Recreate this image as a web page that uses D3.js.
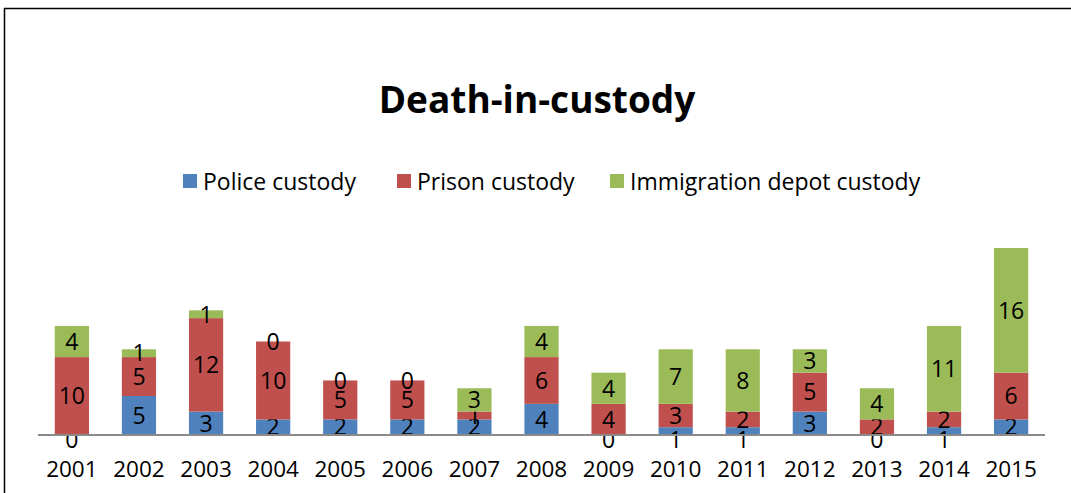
<!DOCTYPE html>
<html lang="en">
  <head>
    <meta charset="utf-8">
    <title>Death-in-custody</title>
    <script src="https://cdnjs.cloudflare.com/ajax/libs/d3/7.8.5/d3.min.js"></script>
    <style>
      body { margin: 0; background: #fff; }
      text { font-family: "Open Sans", sans-serif; fill: #000; }
    </style>
  </head>
  <body>
    <div id="chartDiv"></div>
    <script>
      var years = ["2001","2002","2003","2004","2005","2006","2007","2008","2009","2010","2011","2012","2013","2014","2015"]
      var police = [0, 5, 3, 2, 2, 2, 2, 4, 0, 1, 1, 3, 0, 1, 2]
      var prison = [10, 5, 12, 10, 5, 5, 1, 6, 4, 3, 2, 5, 2, 2, 6]
      var immigration = [4, 1, 1, 0, 0, 0, 3, 4, 4, 7, 8, 3, 4, 11, 16]
      var seriesNames = ["Police custody", "Prison custody", "Immigration depot custody"]
      var colors = ["#4F81BD", "#C0504D", "#9BBB59"]

      var chartWd = 1071
      var chartHt = 493

      var table = years.map(function(y, i) {
        return {year: y, police: police[i], prison: prison[i], immigration: immigration[i]}
      })
      var keys = ["police", "prison", "immigration"]
      var stacked = d3.stack().keys(keys)(table)

      var svg = d3.select("#chartDiv")
          .append("svg")
          .attr("width", chartWd)
          .attr("height", chartHt)

      // chart frame (only left and top edges show in the picture)
      svg.append("rect")
         .attr("x", 4.5).attr("y", 8.5)
         .attr("width", chartWd + 20).attr("height", chartHt + 20)
         .attr("fill", "none")
         .attr("stroke", "#000")
         .attr("stroke-width", 1.5)

      var xScale = d3.scaleBand()
                     .domain(years)
                     .range([38, 1045])
                     .paddingInner(0.49)
                     .paddingOuter(0.25)

      var yScale = d3.scaleLinear()
                     .domain([0, 24])
                     .range([435, 248])

      var groups = svg.selectAll("g.series")
         .data(stacked)
         .enter()
         .append("g")
         .attr("class", "series")
         .attr("fill", function(d, i) { return colors[i] })

      groups.selectAll("rect")
         .data(function(d) { return d })
         .enter()
         .append("rect")
         .attr("x", function(d) { return xScale(d.data.year) })
         .attr("y", function(d) { return yScale(d[1]) })
         .attr("width", xScale.bandwidth())
         .attr("height", function(d) { return yScale(d[0]) - yScale(d[1]) })

      // x axis line
      svg.append("line")
         .attr("x1", 38).attr("x2", 1045)
         .attr("y1", yScale(0)).attr("y2", yScale(0))
         .attr("stroke", "#8a8a8a")
         .attr("stroke-width", 2)

      svg.selectAll("text.year")
         .data(years)
         .enter()
         .append("text")
         .attr("class", "year")
         .attr("x", function(d) { return xScale(d) + xScale.bandwidth() / 2 })
         .attr("y", 477)
         .attr("text-anchor", "middle")
         .attr("font-size", "22.5px")
         .text(function(d) { return d })

      // data labels, centred in each segment; tiny bottom segments
      // get their label pushed a bit under the axis like the original
      groups.selectAll("text.value")
         .data(function(d, i) { return d.map(function(p) { p.series = i; return p }) })
         .enter()
         .append("text")
         .attr("class", "value")
         .attr("x", function(d) { return xScale(d.data.year) + xScale.bandwidth() / 2 })
         .attr("y", function(d) {
           var mid = yScale((d[0] + d[1]) / 2)
           var segHt = yScale(d[0]) - yScale(d[1])
           if (d.series == 0 && segHt < 10) mid = yScale(0) + 5
           return mid
         })
         .attr("dy", "0.36em")
         .attr("text-anchor", "middle")
         .attr("font-size", "23px")
         .text(function(d) { return d[1] - d[0] })

      // title
      svg.append("text")
         .attr("x", 537)
         .attr("y", 113)
         .attr("text-anchor", "middle")
         .attr("font-size", "37px")
         .attr("font-weight", "bold")
         .text("Death-in-custody")

      // legend
      var legendX = [183, 397, 610]
      var legend = svg.selectAll("g.legend")
         .data(seriesNames)
         .enter()
         .append("g")
         .attr("class", "legend")
         .attr("transform", function(d, i) { return "translate(" + legendX[i] + ",174)" })

      legend.append("rect")
         .attr("width", 14).attr("height", 14)
         .attr("fill", function(d, i) { return colors[i] })

      legend.append("text")
         .attr("x", 20)
         .attr("y", 16)
         .attr("font-size", "23px")
         .text(function(d) { return d })
    </script>
  </body>
</html>
